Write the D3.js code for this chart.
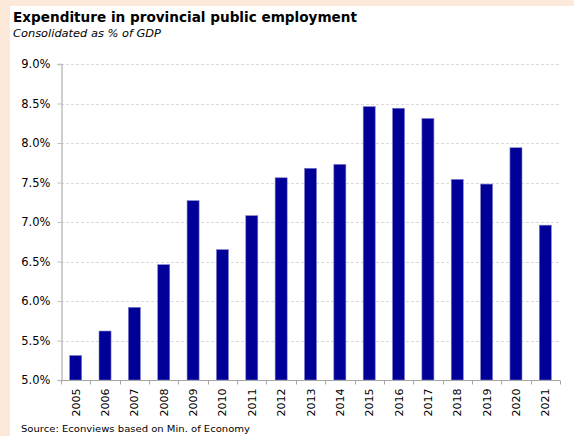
<!DOCTYPE html>
<html>
<head>
<meta charset="utf-8">
<script src="https://cdn.jsdelivr.net/npm/d3@7"></script>
<style>
  html, body { margin: 0; padding: 0; background: #fde9d9; }
  svg { display: block; }
</style>
</head>
<body>
<svg id="chart" width="574" height="436"></svg>
<script>
// Provincial public employment expenditure, consolidated, % of GDP
const years = ["2005","2006","2007","2008","2009","2010","2011","2012","2013",
               "2014","2015","2016","2017","2018","2019","2020","2021"];
const values = [5.31, 5.62, 5.92, 6.46, 7.27, 6.65, 7.08, 7.56, 7.68,
                7.73, 8.46, 8.44, 8.31, 7.54, 7.48, 7.94, 6.96];
const yTicks = [5.0, 5.5, 6.0, 6.5, 7.0, 7.5, 8.0, 8.5, 9.0];

const titleText = "Expenditure in provincial public employment";
const subtitleText = "Consolidated as % of GDP";
const sourceText = "Source: Econviews based on Min. of Economy";

const svg = d3.select("#chart");
const W = 574, H = 436;

// white panel on the peach page
svg.append("rect").attr("x", 10).attr("y", 6).attr("width", W - 10).attr("height", H - 6)
  .attr("fill", "#ffffff");

const m = { left: 61, right: 14, top: 64, bottom: 56 };
const x = d3.scaleBand().domain(years).range([m.left, W - m.right]).paddingInner(0.59).paddingOuter(0.295);
const y = d3.scaleLinear().domain([5.0, 9.0]).range([H - m.bottom, m.top]);

// gridlines
svg.append("g").selectAll("line").data(yTicks.filter(d => d > 5.0)).join("line")
  .attr("x1", m.left).attr("x2", W - m.right)
  .attr("y1", d => Math.round(y(d)) + 0.5).attr("y2", d => Math.round(y(d)) + 0.5)
  .attr("stroke", "#d9d9d9").attr("stroke-width", 1).attr("stroke-dasharray", "3,2");

// bars
svg.append("g").selectAll("rect").data(values).join("rect")
  .attr("x", (d, i) => x(years[i]))
  .attr("y", d => y(d))
  .attr("width", x.bandwidth())
  .attr("height", d => y(5.0) - y(d))
  .attr("fill", "#000099")
  .attr("stroke", "#8080c8").attr("stroke-width", 0.6);

// y axis
const yAxis = d3.axisLeft(y).tickValues(yTicks).tickFormat(d => d3.format(".1f")(d) + "%")
  .tickSize(4).tickPadding(7);
const gy = svg.append("g").attr("transform", `translate(${m.left + 0.5},0)`).call(yAxis);
gy.select(".domain").attr("stroke", "#bfbfbf").attr("stroke-width", 1.5);
gy.selectAll(".tick line").attr("stroke", "#bfbfbf");
gy.selectAll("text").attr("font-family", "'DejaVu Sans', sans-serif").attr("font-size", 11.5)
  .attr("fill", "#000");

// x axis: ticks on category boundaries
const base = Math.round(y(5.0)) + 0.5;
svg.append("line").attr("x1", m.left).attr("x2", W - m.right).attr("y1", base).attr("y2", base)
  .attr("stroke", "#a6a6a6").attr("stroke-width", 1.2);
const step = x.step();
const bounds = d3.range(years.length + 1).map(i => m.left + i * (W - m.left - m.right) / years.length);
svg.append("g").selectAll("line").data(bounds).join("line")
  .attr("x1", d => Math.round(d) + 0.5).attr("x2", d => Math.round(d) + 0.5)
  .attr("y1", base).attr("y2", base + 4)
  .attr("stroke", "#a6a6a6");

svg.append("g").selectAll("text").data(years).join("text")
  .attr("transform", d => `translate(${x(d) + x.bandwidth() / 2 + 4},${base + 8}) rotate(-90)`)
  .attr("text-anchor", "end")
  .attr("font-family", "'DejaVu Sans', sans-serif").attr("font-size", 11)
  .attr("fill", "#000")
  .text(d => d);

// titles
svg.append("text").attr("x", 13).attr("y", 22)
  .attr("font-family", "'DejaVu Sans', sans-serif").attr("font-weight", "bold").attr("font-size", 14)
  .attr("textLength", 344).attr("lengthAdjust", "spacingAndGlyphs")
  .text(titleText);
svg.append("text").attr("x", 13).attr("y", 37)
  .attr("font-family", "'DejaVu Sans', sans-serif").attr("font-style", "italic").attr("font-size", 11)
  .attr("textLength", 148).attr("lengthAdjust", "spacingAndGlyphs")
  .text(subtitleText);
svg.append("text").attr("x", 21).attr("y", 432)
  .attr("font-family", "'DejaVu Sans', sans-serif").attr("font-size", 9.5)
  .attr("textLength", 229).attr("lengthAdjust", "spacingAndGlyphs")
  .text(sourceText);
</script>
</body>
</html>
